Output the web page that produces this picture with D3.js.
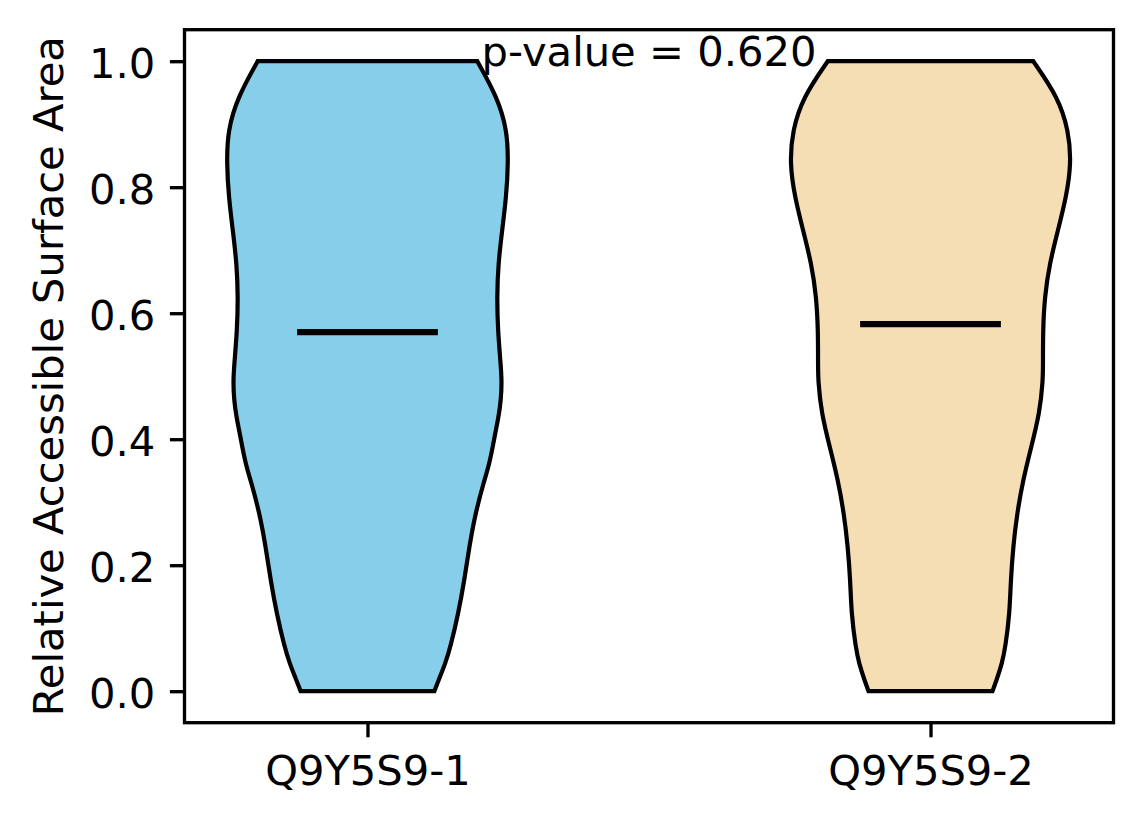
<!DOCTYPE html>
<html>
<head>
<meta charset="utf-8">
<script src="https://cdn.jsdelivr.net/npm/d3@7"></script>
<style>
  body { margin: 0; background: #fff; }
  svg text { font-family: "DejaVu Sans", sans-serif; }
</style>
</head>
<body>
<div id="chart"></div>
<script>
// categories and summary values
const groups = ['Q9Y5S9-1', 'Q9Y5S9-2'];
const positions = [1, 2];
const medians = [0.570, 0.5825];
const colors = ['#87CEEB', '#F5DEB3'];
const pValueText = 'p-value = 0.620';
const yTicks = [0.0, 0.2, 0.4, 0.6, 0.8, 1.0];

// density profiles (value, relative width)
const levels1 = [0, 0.017, 0.044, 0.070, 0.123, 0.176, 0.229, 0.282, 0.335, 0.356, 0.388, 0.410, 0.435, 0.462, 0.490, 0.515, 0.573, 0.626, 0.679, 0.732, 0.785, 0.838, 0.890, 0.943, 1.0];
const density1 = [0.475, 0.504, 0.553, 0.589, 0.645, 0.688, 0.723, 0.766, 0.830, 0.860, 0.890, 0.908, 0.931, 0.948, 0.954, 0.948, 0.926, 0.920, 0.929, 0.957, 0.986, 1.0, 0.993, 0.922, 0.780];
const levels2 = [0, 0.017, 0.044, 0.070, 0.123, 0.176, 0.229, 0.282, 0.335, 0.388, 0.441, 0.494, 0.520, 0.573, 0.626, 0.679, 0.732, 0.785, 0.838, 0.890, 0.943, 1.0];
const density2 = [0.440, 0.468, 0.508, 0.532, 0.562, 0.570, 0.587, 0.615, 0.657, 0.716, 0.775, 0.799, 0.799, 0.799, 0.811, 0.846, 0.906, 0.965, 1.0, 0.981, 0.906, 0.730];

const w = 1144;
const h = 824;
const plotLeft = 184.5, plotRight = 1113.5, plotTop = 29.7, plotBottom = 722.7;
const fs = 41.67;
const violinWidth = 0.5;

const svg = d3.select('#chart')
    .append('svg')
    .attr('width', w)
    .attr('height', h);

// Scales
const xScale = d3.scaleLinear()
    .domain([0.675, 2.325])
    .range([plotLeft, plotRight]);

const yScale = d3.scaleLinear()
    .domain([-0.05, 1.05])
    .range([plotBottom, plotTop]);

// Violins
const profiles = [
    levels1.map((v, i) => ({ v: v, d: density1[i] })),
    levels2.map((v, i) => ({ v: v, d: density2[i] }))
];

profiles.forEach((prof, i) => {
    const pos = positions[i];
    const area = d3.area()
        .y(d => yScale(d.v))
        .x0(d => xScale(pos - d.d * violinWidth / 2))
        .x1(d => xScale(pos + d.d * violinWidth / 2))
        .curve(d3.curveBasis);

    svg.append('path')
        .datum(prof)
        .attr('d', area)
        .attr('fill', colors[i])
        .attr('stroke', '#000')
        .attr('stroke-width', 4.2)
        .attr('stroke-linejoin', 'miter');
});

// Medians
svg.selectAll('line.median')
    .data(medians)
    .enter()
    .append('line')
    .attr('class', 'median')
    .attr('x1', (d, i) => xScale(positions[i] - violinWidth / 4))
    .attr('x2', (d, i) => xScale(positions[i] + violinWidth / 4))
    .attr('y1', d => yScale(d))
    .attr('y2', d => yScale(d))
    .attr('stroke', '#000')
    .attr('stroke-width', 6.25);

// Axes
const xAxis = d3.axisBottom(xScale)
    .tickValues(positions)
    .tickFormat((d, i) => groups[i])
    .tickSizeInner(14.6)
    .tickSizeOuter(0)
    .tickPadding(14.6);

const yAxis = d3.axisLeft(yScale)
    .tickValues(yTicks)
    .tickFormat(d3.format('.1f'))
    .tickSizeInner(14.6)
    .tickSizeOuter(0)
    .tickPadding(14.6);

const gx = svg.append('g')
    .attr('transform', `translate(0, ${plotBottom})`)
    .call(xAxis);

const gy = svg.append('g')
    .attr('transform', `translate(${plotLeft}, 0)`)
    .call(yAxis);

[gx, gy].forEach(g => {
    g.select('.domain').remove();
    g.selectAll('.tick line').attr('stroke', '#000').attr('stroke-width', 3.33);
    g.selectAll('.tick text')
        .attr('fill', '#000')
        .style('font-size', fs + 'px')
        .style('font-family', '"DejaVu Sans", sans-serif');
});
gx.selectAll('.tick text').attr('dy', null).attr('y', 62.5);
gy.selectAll('.tick text').attr('dy', '0.39em');

// Frame
svg.append('rect')
    .attr('x', plotLeft)
    .attr('y', plotTop)
    .attr('width', plotRight - plotLeft)
    .attr('height', plotBottom - plotTop)
    .attr('fill', 'none')
    .attr('stroke', '#000')
    .attr('stroke-width', 3.33);

// Labels
svg.append('text')
    .attr('transform', `translate(63, ${(plotTop + plotBottom) / 2}) rotate(-90)`)
    .attr('text-anchor', 'middle')
    .style('font-size', fs + 'px')
    .text('Relative Accessible Surface Area');

svg.append('text')
    .attr('x', xScale(1.5))
    .attr('y', yScale(1.0) + 4.8)
    .attr('text-anchor', 'middle')
    .style('font-size', fs + 'px')
    .text(pValueText);
</script>
</body>
</html>
